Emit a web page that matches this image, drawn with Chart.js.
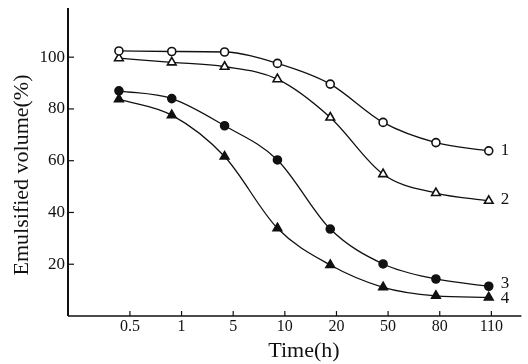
<!DOCTYPE html>
<html><head><meta charset="utf-8">
<script src="https://cdn.jsdelivr.net/npm/chart.js@4.4.1/dist/chart.umd.min.js"></script>
<style>html,body{margin:0;padding:0;background:#fff}#wrap{width:528px;height:364px}</style>
</head><body><div id="wrap"><canvas id="c" width="528" height="364"></canvas></div>
<script>
const categories = ['0.5', '1', '5', '10', '20', '50', '80', '110'];
const series1 = [102.4, 102.2, 102.0, 97.6, 89.6, 74.8, 67.0, 63.8];
const series2 = [99.6, 98.0, 96.3, 91.5, 76.7, 54.8, 47.5, 44.5];
const series3 = [87.0, 84.0, 73.5, 60.3, 33.6, 20.1, 14.3, 11.5];
const series4 = [83.8, 77.6, 61.6, 33.9, 19.7, 11.1, 7.8, 7.2];
const seriesNames = ['1', '2', '3', '4'];
const yTicks = [20, 40, 60, 80, 100];
const yMax = 119;
const yTitle = 'Emulsified volume(%)';
const xTitle = 'Time(h)';

const FONT = '"Liberation Serif", "DejaVu Serif", serif';
const pts = arr => arr.map((v, i) => ({x: i, y: v}));

const endLabels = {
  id: 'endLabels',
  afterDatasetsDraw(chart) {
    const ctx = chart.ctx;
    ctx.save();
    ctx.fillStyle = '#111';
    ctx.font = '17px ' + FONT;
    ctx.textBaseline = 'middle';
    const dy = [0, -1, -3, 1];
    chart.data.datasets.forEach((ds, i) => {
      const meta = chart.getDatasetMeta(i);
      const last = meta.data[meta.data.length - 1];
      ctx.fillText(seriesNames[i], last.x + 12, last.y + dy[i]);
    });
    ctx.restore();
  }
};

const axesDraw = {
  id: 'axesDraw',
  afterDraw(chart) {
    const ctx = chart.ctx;
    const a = chart.chartArea;
    const ys = chart.scales.y, xs = chart.scales.xl;
    ctx.save();
    ctx.strokeStyle = '#111';
    ctx.lineWidth = 2;
    ctx.beginPath();
    ctx.moveTo(a.left, a.top); ctx.lineTo(a.left, a.bottom);
    ctx.stroke();
    ctx.lineWidth = 1.5;
    ctx.beginPath();
    ctx.moveTo(a.left, a.bottom); ctx.lineTo(a.right, a.bottom);
    ctx.stroke();
    ctx.lineWidth = 1.2;
    yTicks.forEach(v => {
      const y = ys.getPixelForValue(v);
      ctx.beginPath(); ctx.moveTo(a.left, y); ctx.lineTo(a.left + 6, y); ctx.stroke();
    });
    categories.forEach((c, i) => {
      const x = xs.getPixelForValue(i);
      ctx.beginPath(); ctx.moveTo(x, a.bottom); ctx.lineTo(x, a.bottom - 5); ctx.stroke();
    });
    ctx.fillStyle = '#111';
    ctx.font = '22px ' + FONT;
    ctx.textAlign = 'center';
    ctx.textBaseline = 'middle';
    // x-axis title
    ctx.fillText(xTitle, 304, 351);
    // y-axis title
    ctx.translate(22, 175);
    ctx.rotate(-Math.PI / 2);
    ctx.fillText(yTitle, 0, 0);
    ctx.restore();
  }
};

const mk = (data, style, filled) => ({
  data: pts(data),
  borderColor: '#111',
  borderWidth: 1.3,
  pointStyle: style,
  pointRadius: style === 'triangle' ? 5 : 4,
  pointBorderWidth: 1.6,
  pointBackgroundColor: filled ? '#111' : '#fff',
  pointBorderColor: '#111',
  tension: 0.4,
  cubicInterpolationMode: 'monotone',
  fill: false,
  xAxisID: 'x',
  yAxisID: 'y'
});

new Chart(document.getElementById('c'), {
  type: 'line',
  data: {
    datasets: [
      mk(series1, 'circle', false),
      mk(series2, 'triangle', false),
      mk(series3, 'circle', true),
      mk(series4, 'triangle', true)
    ]
  },
  options: {
    responsive: false,
    animation: false,
    devicePixelRatio: 1,
    layout: {padding: {top: 8, right: 6, left: 0, bottom: 0}},
    plugins: {legend: {display: false}, tooltip: {enabled: false}},
    scales: {
      x: {
        type: 'linear', display: false, min: -0.964, max: 7.618
      },
      xl: {
        type: 'linear', position: 'bottom', min: -1.199, max: 7.581,
        afterBuildTicks: s => { s.ticks = categories.map((c, i) => ({value: i})); },
        afterFit: s => { s.height = 48; s.paddingLeft = 0; s.paddingRight = 0; },
        grid: {display: false, drawTicks: false},
        border: {display: false},
        ticks: {
          padding: 1, color: '#111', font: {family: FONT, size: 16},
          autoSkip: false, maxRotation: 0,
          callback: (v, i) => categories[i]
        }
      },
      y: {
        type: 'linear', min: 0, max: yMax,
        afterBuildTicks: s => { s.ticks = yTicks.map(v => ({value: v})); },
        afterFit: s => { s.width = 68; s.paddingTop = 0; s.paddingBottom = 0; },
        grid: {display: false, drawTicks: false},
        border: {display: false},
        ticks: {padding: 3, color: '#111', font: {family: FONT, size: 17}}
      }
    }
  },
  plugins: [axesDraw, endLabels]
});
</script>
</body></html>
